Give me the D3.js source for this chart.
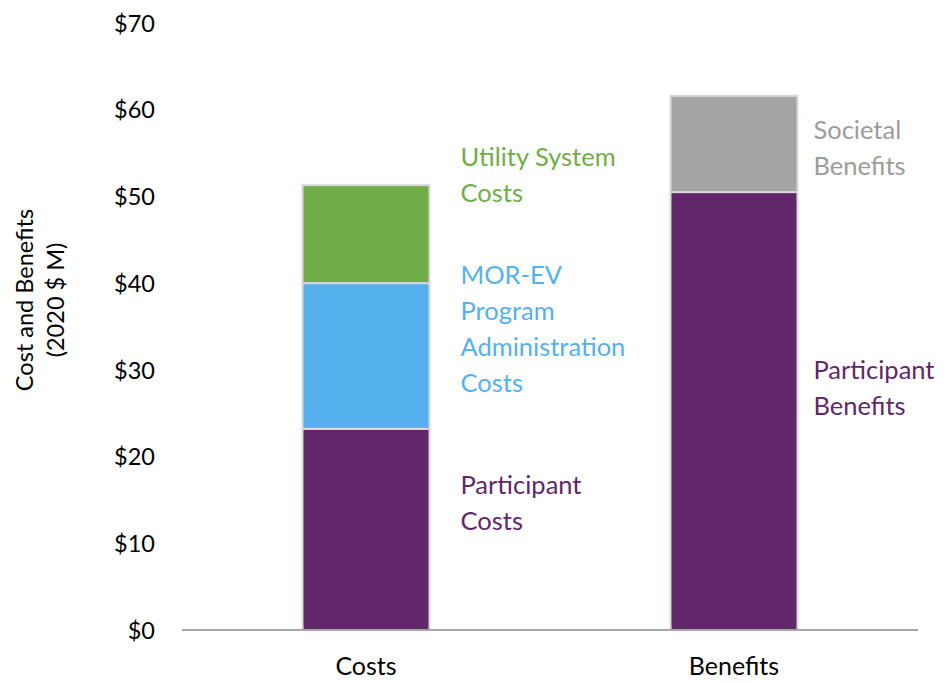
<!DOCTYPE html>
<html>
<head>
<meta charset="utf-8">
<title>Cost and Benefits</title>
<script src="https://d3js.org/d3.v7.min.js"></script>
<style>
  body { margin: 0; background: #fff; }
  text { font-family: Lato, "Open Sans", sans-serif; }
  .tick text { fill: #000; }
</style>
</head>
<body>
<script>
// chart data
var categories = ["Costs", "Benefits"];
var segmentNames = [
  ["Participant Costs", "MOR-EV Program Administration Costs", "Utility System Costs"],
  ["Participant Benefits", "Societal Benefits"]
];
var segmentValues = [
  [23.2, 16.8, 11.3],
  [50.5, 11.1]
];
var segmentColors = [
  ["#62266a", "#55b0ee", "#70ad47"],
  ["#62266a", "#a5a5a5"]
];
var labelColors = [
  ["#62266a", "#55b0ee", "#70ad47"],
  ["#62266a", "#9c9c9c"]
];
// label lines as they are wrapped in the picture
var labelLines = [
  [["Participant", "Costs"], ["MOR-EV", "Program", "Administration", "Costs"], ["Utility System", "Costs"]],
  [["Participant", "Benefits"], ["Societal", "Benefits"]]
];
// y value where each label block is centred
var labelAt = [
  [14.6, 34.7, 52.5],
  [27.9, 55.6]
];
var yTicks = [0, 10, 20, 30, 40, 50, 60, 70];

var width = 946, height = 683;
var margin = {top: 23, right: 28, bottom: 53, left: 182};
var labelGap = [31, 16];

var svg = d3.select("body").append("svg")
    .attr("width", width)
    .attr("height", height);

var x = d3.scaleBand()
    .domain(categories)
    .range([margin.left, width - margin.right])
    .paddingInner(0.655)
    .paddingOuter(0.3275);

var y = d3.scaleLinear()
    .domain([0, 70])
    .range([height - margin.bottom, margin.top]);

// y axis labels only
var yAxis = svg.append("g")
    .attr("transform", "translate(" + (margin.left - 27) + ",0)")
    .call(d3.axisLeft(y).tickValues(yTicks).tickSize(0).tickPadding(0)
      .tickFormat(function(d) { return "$" + d; }));
yAxis.select(".domain").remove();
yAxis.selectAll(".tick text").style("font-size", "23.5px").attr("dy", "0.35em");

// stacked bars
categories.forEach(function(cat, i) {
  var base = 0;
  var segs = segmentValues[i].map(function(v, j) {
    var s = {y0: base, y1: base + v, color: segmentColors[i][j]};
    base += v;
    return s;
  });
  svg.append("g").selectAll("rect")
    .data(segs)
    .enter().append("rect")
    .attr("x", x(cat))
    .attr("width", x.bandwidth())
    .attr("y", function(d) { return y(d.y1); })
    .attr("height", function(d) { return y(d.y0) - y(d.y1); })
    .style("fill", function(d) { return d.color; })
    .style("stroke", "#d9d9d9")
    .style("stroke-width", 2);

  // segment labels to the right of each bar
  labelLines[i].forEach(function(lines, j) {
    var lh = 36;
    var lx = x(cat) + x.bandwidth() + labelGap[i];
    var top = y(labelAt[i][j]) - (lines.length - 1) * lh / 2;
    svg.append("g").selectAll("text")
      .data(lines)
      .enter().append("text")
      .attr("x", lx)
      .attr("y", function(d, k) { return top + k * lh; })
      .attr("dy", "0.35em")
      .style("font-size", "25.5px")
      .style("fill", labelColors[i][j])
      .text(function(d) { return d; });
  });
});

// baseline
svg.append("line")
  .attr("x1", margin.left).attr("x2", width - margin.right)
  .attr("y1", y(0)).attr("y2", y(0))
  .style("stroke", "#a6a6a6").style("stroke-width", 2);

// x axis labels
var xAxis = svg.append("g")
    .attr("transform", "translate(0," + y(0) + ")")
    .call(d3.axisBottom(x).tickSize(0).tickPadding(27));
xAxis.select(".domain").remove();
xAxis.selectAll(".tick text").style("font-size", "25px");

// y axis title
var title = svg.append("text")
  .attr("transform", "translate(40,300) rotate(-90)")
  .attr("text-anchor", "middle")
  .style("font-size", "23.5px")
  .style("fill", "#000");
title.append("tspan").attr("x", 0).attr("dy", "-0.3em").text("Cost and Benefits");
title.append("tspan").attr("x", 0).attr("dy", "1.3em").text("(2020 $ M)");
</script>
</body>
</html>
